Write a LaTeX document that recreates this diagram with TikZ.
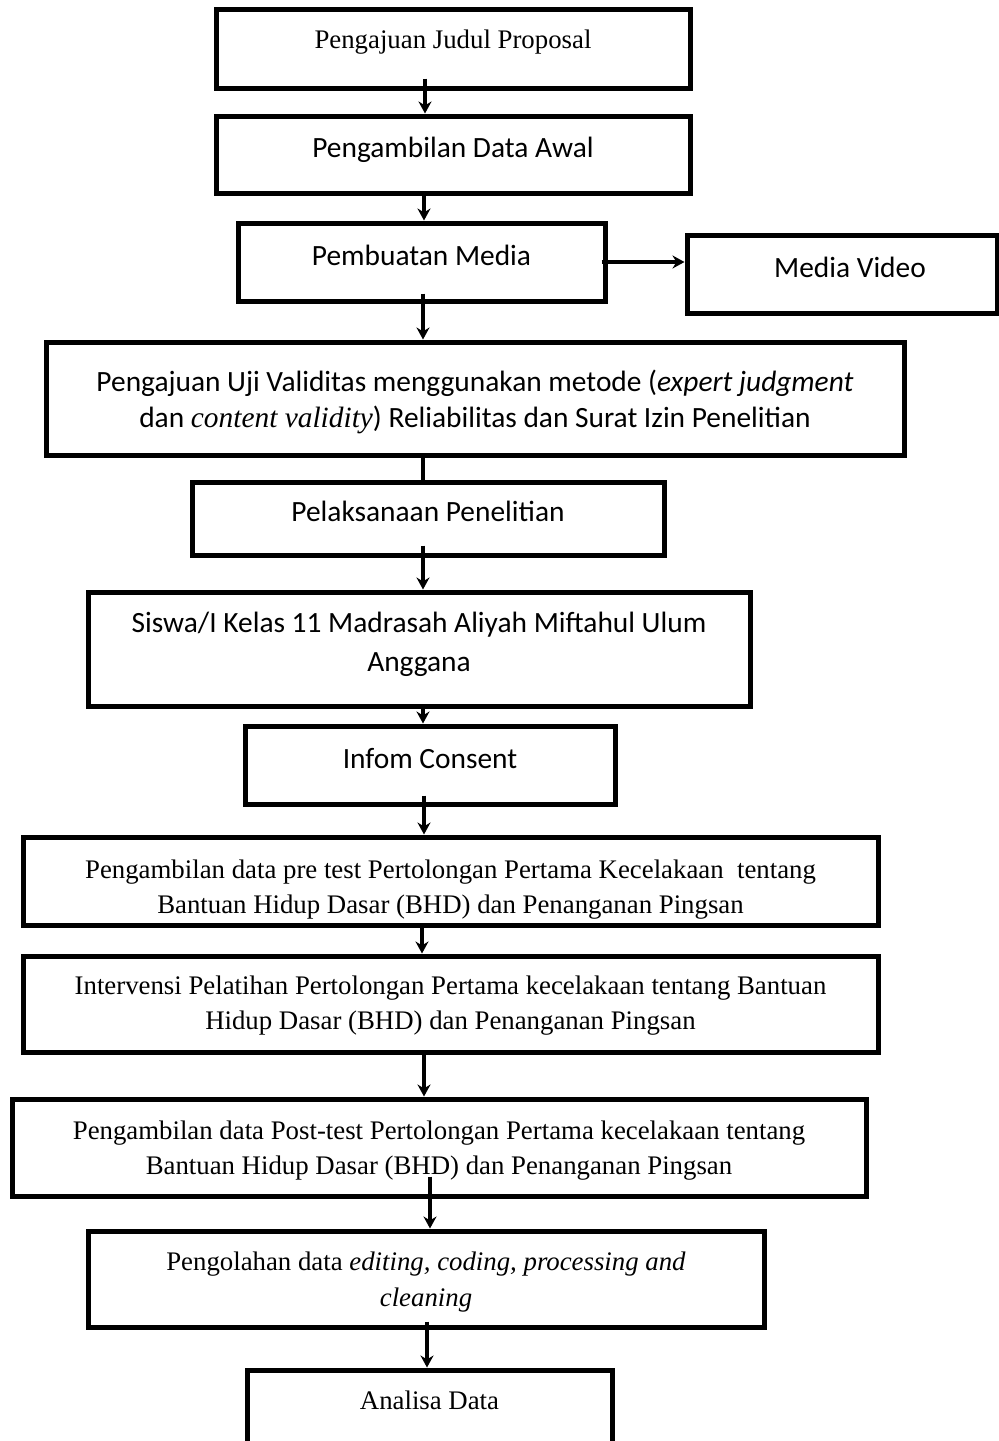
\documentclass[tikz,border=0pt]{standalone}
\usepackage{fontspec}
\setmainfont{Liberation Serif}
\newfontfamily\calibri{Carlito}
\usetikzlibrary{positioning, arrows.meta}

\begin{document}
\begin{tikzpicture}[x=0.5pt, y=-0.5pt]
        \tikzset{
            stepbox/.style={draw, shape = rectangle, line width=2.5pt, inner sep=0pt, align=center, text height=10pt, text depth=7pt},
            serif/.style={font=\fontsize{13.4}{17.5}\selectfont},
            sans/.style={font=\calibri\fontsize{14.7}{18}\selectfont},
            flow/.style={line width=2pt, -{Stealth[length=6pt, width=6.5pt]}}
        }
        \clip (0,0) rectangle (999,1441);
        \node[stepbox, serif, minimum width=237pt, minimum height=39.5pt, text depth=10.5pt] (b1) at (453,48.5) {Pengajuan Judul Proposal};
        \node[stepbox, sans, minimum width=237pt, minimum height=38.5pt] (b2) [below=11.5pt of b1] {Pengambilan Data Awal};
        \node[stepbox, sans, minimum width=183.5pt, minimum height=39pt] (b3) [below=12.5pt of b2, xshift=-15.75pt] {Pembuatan Media};
        \node[stepbox, sans, minimum width=155pt, minimum height=39pt] (b4) [right=38.5pt of b3, yshift=-6pt] {\hspace*{8pt}Media Video};
        \node[stepbox, sans, minimum width=429pt, minimum height=56.5pt, text height=34pt, text depth=5pt] (b5) [below=18pt of b3, xshift=26.75pt] {Pengajuan Uji Validitas menggunakan metode (\textit{expert judgment}\\dan {\rmfamily\itshape content validity}) Reliabilitas dan Surat Izin Penelitian};
        \node[stepbox, sans, minimum width=236pt, minimum height=36.5pt] (b6) [below=11pt of b5, xshift=-23.5pt] {Pelaksanaan Penelitian};
        \node[stepbox, sans, font=\calibri\fontsize{14.7}{19.5}\selectfont, minimum width=331pt, minimum height=57pt, text height=28pt, text depth=5.5pt] (b7) [below=16pt of b6, xshift=-4.5pt] {Siswa/I Kelas 11 Madrasah Aliyah Miftahul Ulum\\Anggana};
        \node[stepbox, sans, minimum width=185pt, minimum height=39pt] (b8) [below=7.5pt of b7, xshift=5.5pt] {Infom Consent};
        \node[stepbox, serif, minimum width=427.5pt, minimum height=44pt, text height=37pt, text depth=5pt] (b9) [below=14pt of b8, xshift=10.25pt] {Pengambilan data pre test Pertolongan Pertama Kecelakaan~ tentang\\Bantuan Hidup Dasar (BHD) dan Penanganan Pingsan};
        \node[stepbox, serif, minimum width=427.5pt, minimum height=48pt, text height=30pt, text depth=5pt] (b10) [below=13pt of b9] {Intervensi Pelatihan Pertolongan Pertama kecelakaan tentang Bantuan\\Hidup Dasar (BHD) dan Penanganan Pingsan};
        \node[stepbox, serif, minimum width=427pt, minimum height=48.5pt, text height=31.5pt, text depth=5pt] (b11) [below=21pt of b10, xshift=-5.75pt] {Pengambilan data Post-test Pertolongan Pertama kecelakaan tentang\\Bantuan Hidup Dasar (BHD) dan Penanganan Pingsan};
        \node[stepbox, serif, font=\fontsize{13.4}{18}\selectfont, minimum width=338pt, minimum height=48pt, text height=32pt, text depth=5pt] (b12) [below=15pt of b11, xshift=-6.5pt] {Pengolahan data \textit{editing, coding, processing and}\\\textit{cleaning}};
        \node[stepbox, serif, minimum width=182.5pt, minimum height=37pt, text depth=8pt] (b13) [below=19pt of b12, xshift=1.75pt] {Analisa Data};
        \draw[flow] ([xshift=-14pt, yshift=6pt]b1.south) -- ([xshift=-14pt]b2.north);
        \draw[flow] ([xshift=-14.5pt, yshift=2pt]b2.south) -- ([xshift=1.25pt]b3.north);
        \draw[flow] ([xshift=-3pt]b3.east) -- (b3.east -| b4.west);
        \draw[flow] ([xshift=0.75pt, yshift=5pt]b3.south) -- ([xshift=-26pt]b5.north);
        \draw[line width=2pt] ([xshift=-26pt]b5.south) -- ([xshift=-2.5pt]b6.north);
        \draw[flow] ([xshift=-2.5pt, yshift=6pt]b6.south) -- ([xshift=2pt]b7.north);
        \draw[flow] ([xshift=2pt]b7.south) -- ([xshift=-3.5pt]b8.north);
        \draw[flow] ([xshift=-3pt, yshift=5.5pt]b8.south) -- ([xshift=-13.25pt]b9.north);
        \draw[flow] ([xshift=-14.25pt]b9.south) -- ([xshift=-14.25pt]b10.north);
        \draw[flow] ([xshift=-13.25pt]b10.south) -- ([xshift=-7.5pt]b11.north);
        \draw[flow] ([xshift=-4.5pt, yshift=11pt]b11.south) -- ([xshift=2pt]b12.north);
        \draw[flow] ([xshift=0.5pt, yshift=4pt]b12.south) -- ([xshift=-1.25pt]b13.north);
    \end{tikzpicture}
\end{document}
